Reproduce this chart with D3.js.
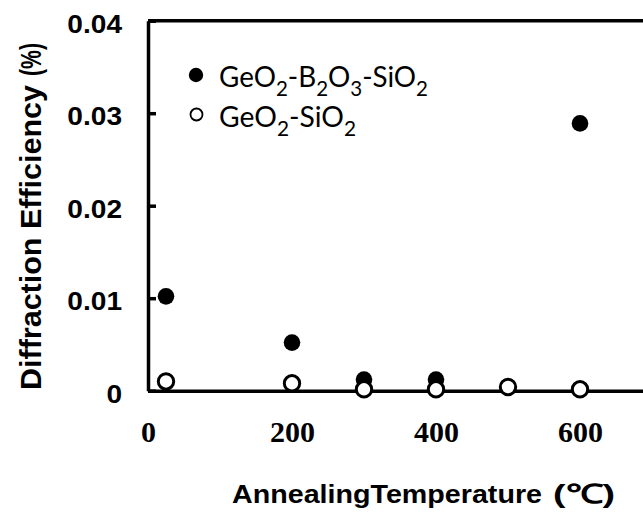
<!DOCTYPE html>
<html><head><meta charset="utf-8">
<script src="https://cdn.jsdelivr.net/npm/d3@7/dist/d3.min.js"></script>
<style>html,body{margin:0;padding:0;background:#fff;} svg{display:block;}</style>
</head><body>
<script>
// ---- data ----
const tempsBoro = [25, 200, 300, 400, 600];
const effBoro   = [0.0102, 0.0052, 0.0012, 0.0012, 0.0289];
const tempsSil  = [25, 200, 300, 400, 500, 600];
const effSil    = [0.0010, 0.0008, 0.00015, 0.00015, 0.0004, 0.00015];
const xTicks = [0, 200, 400, 600];
const yTicks = [0, 0.01, 0.02, 0.03, 0.04];
const yTickLabels = ["0", "0.01", "0.02", "0.03", "0.04"];

const W = 643, H = 513;
const svg = d3.select("body").append("svg").attr("width", W).attr("height", H);

const x = d3.scaleLinear().domain([0, 700]).range([148, 652]);
const y = d3.scaleLinear().domain([0, 0.04]).range([390.7, 20.7]);

const AX = "#000", SW = 3.5;
const sans = "'Liberation Sans', Arial, sans-serif";

function stretch(sel, f) {
  sel.each(function() {
    const w = this.getComputedTextLength();
    d3.select(this).attr("textLength", w * f).attr("lengthAdjust", "spacingAndGlyphs");
  });
}

// top border
svg.append("line").attr("x1", x(0)).attr("x2", W).attr("y1", y(0.04)).attr("y2", y(0.04))
  .attr("stroke", AX).attr("stroke-width", SW);

// y axis
const gy = svg.append("g").attr("transform", `translate(${x(0)},0)`)
  .call(d3.axisLeft(y).tickValues(yTicks).tickSizeInner(-8).tickSizeOuter(0)
        .tickFormat((d, i) => yTickLabels[i]));
gy.select(".domain").attr("stroke", AX).attr("stroke-width", SW);
gy.selectAll(".tick line").attr("stroke", AX).attr("stroke-width", SW);
gy.selectAll(".tick text").attr("x", -26).attr("dy", null).attr("y", 11.5)
  .attr("font-family", sans).attr("font-weight", "bold").attr("font-size", 26)
  .attr("fill", "#000").attr("text-anchor", "end");
stretch(gy.selectAll(".tick text"), 1.08);

// x axis
const gx = svg.append("g").attr("transform", `translate(0,${y(0)})`)
  .call(d3.axisBottom(x).tickValues(xTicks).tickSize(0).tickFormat(d3.format("d")));
gx.select(".domain").attr("stroke", AX).attr("stroke-width", SW);
gx.selectAll(".tick text").attr("dy", null).attr("y", 51.5)
  .attr("font-family", "'Liberation Serif', 'Times New Roman', serif").attr("font-weight", "bold")
  .attr("font-size", 30).attr("fill", "#000");

// axis titles
svg.append("text").attr("x", 232).attr("y", 503).text("AnnealingTemperature")
  .attr("font-family", sans).attr("font-weight", "bold").attr("font-size", 26.5)
  .attr("textLength", 310).attr("lengthAdjust", "spacingAndGlyphs");
svg.append("text").attr("x", 553).attr("y", 503).text("(℃)")
  .attr("font-family", sans).attr("font-weight", "bold").attr("font-size", 26.5)
  .attr("textLength", 62).attr("lengthAdjust", "spacingAndGlyphs");

svg.append("text").attr("transform", "translate(41,390) rotate(-90)")
  .text("Diffraction Efficiency")
  .attr("font-family", sans).attr("font-weight", "bold").attr("font-size", 29)
  .attr("textLength", 305).attr("lengthAdjust", "spacingAndGlyphs");
svg.append("text").attr("transform", "translate(41,76) rotate(-90)")
  .text("(%)")
  .attr("font-family", sans).attr("font-weight", "bold").attr("font-size", 29)
  .attr("textLength", 33).attr("lengthAdjust", "spacingAndGlyphs");

// data points
const boro = tempsBoro.map((t, i) => ({t, v: effBoro[i]}));
const sil = tempsSil.map((t, i) => ({t, v: effSil[i]}));
svg.append("g").selectAll("circle").data(boro).join("circle")
  .attr("cx", d => x(d.t)).attr("cy", d => y(d.v)).attr("r", 8.3).attr("fill", "#000");
svg.append("g").selectAll("circle").data(sil).join("circle")
  .attr("cx", d => x(d.t)).attr("cy", d => y(d.v)).attr("r", 7.7)
  .attr("fill", "#fff").attr("stroke", "#000").attr("stroke-width", 3);

// legend
const lf = "Lato, 'Open Sans', sans-serif";
svg.append("circle").attr("cx", 196).attr("cy", 75).attr("r", 7.2).attr("fill", "#000");
svg.append("circle").attr("cx", 196.5).attr("cy", 114.5).attr("r", 6).attr("fill", "#fff")
  .attr("stroke", "#000").attr("stroke-width", 1.8);

function parse(str) {
  const out = []; let prevSub = false;
  for (const ch of str.match(/[0-9]+|[^0-9]+/g)) {
    if (/^[0-9]+$/.test(ch)) { out.push({s: ch, sub: true}); prevSub = true; }
    else { out.push({s: ch, after: prevSub}); prevSub = false; }
  }
  return out;
}
function chem(parts, xx, yy, len) {
  const t = svg.append("text").attr("x", xx).attr("y", yy)
    .attr("font-family", lf).attr("font-size", 28.5).attr("fill", "#000");
  parts.forEach(p => {
    if (p.sub) t.append("tspan").text(p.s).attr("font-size", 21).attr("dy", 9);
    else t.append("tspan").text(p.s).attr("dy", p.after ? -9 : 0);
  });
  t.attr("textLength", len).attr("lengthAdjust", "spacingAndGlyphs");
  return t;
}
chem(parse("GeO2-B2O3-SiO2"), 219, 87, 209);
chem(parse("GeO2-SiO2"), 219, 127, 137);
</script>
</body></html>
